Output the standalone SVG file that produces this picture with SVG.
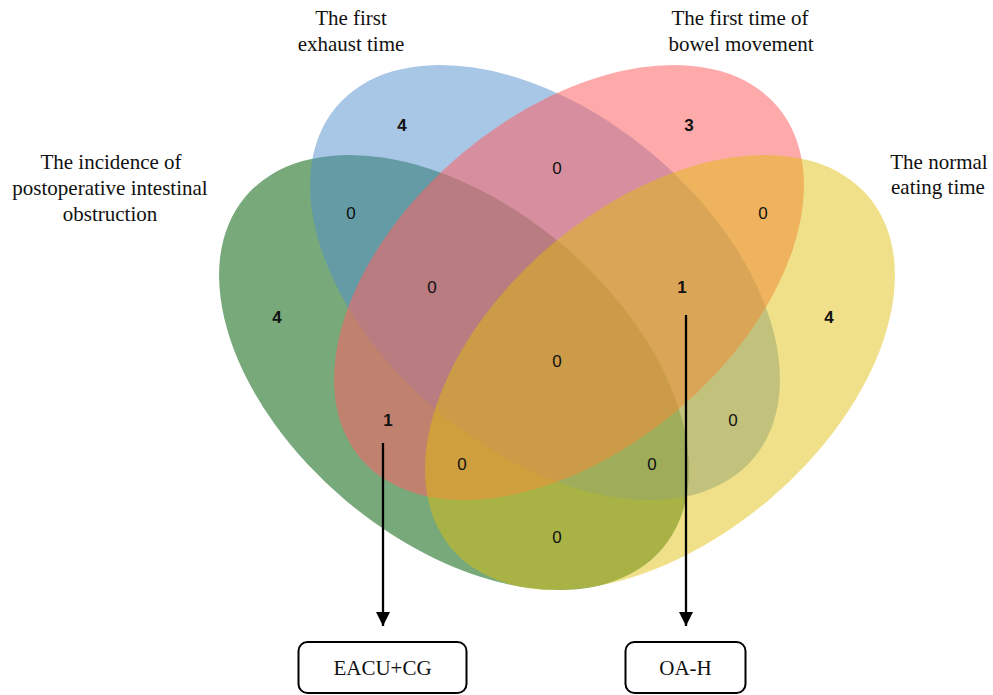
<svg xmlns="http://www.w3.org/2000/svg" width="993" height="695" viewBox="0 0 993 695">
<defs>
<style>
.lbl{font-family:"Liberation Serif","Times New Roman",serif;font-size:21px;fill:#111;text-anchor:middle}
.num{font-family:"Liberation Sans",Arial,sans-serif;font-size:17px;fill:#111;text-anchor:middle}
.b{font-weight:bold}
.box{fill:#fff;stroke:#000;stroke-width:2}
.conn{stroke:#000;stroke-width:2.3;fill:none}
</style>
<marker id="ah" markerWidth="14" markerHeight="14" refX="14" refY="7" orient="auto" markerUnits="userSpaceOnUse">
<path d="M0,0 L14,7 L0,14 Z" fill="#000"/>
</marker>
</defs>
<rect width="993" height="695" fill="#fff"/>
<g id="set-obstruction">
<ellipse cx="454" cy="372.5" rx="272.8" ry="167.6" transform="rotate(40.1 454 372.5)" fill="#3d8443" fill-opacity="0.7"/>
</g>
<g id="set-exhaust">
<ellipse cx="545" cy="282.5" rx="272.8" ry="167.6" transform="rotate(40.1 545 282.5)" fill="#518dcd" fill-opacity="0.5"/>
</g>
<g id="set-bowel">
<ellipse cx="569" cy="282.5" rx="272.8" ry="167.6" transform="rotate(-40.1 569 282.5)" fill="#fd6364" fill-opacity="0.55"/>
</g>
<g id="set-eating">
<ellipse cx="660" cy="372.5" rx="272.8" ry="167.6" transform="rotate(-40.1 660 372.5)" fill="#e0be0b" fill-opacity="0.48"/>
</g>
<g id="set-labels">
<text class="lbl" x="351" y="25">The first</text>
<text class="lbl" x="351" y="51">exhaust time</text>
<text class="lbl" x="740" y="25">The first time of</text>
<text class="lbl" x="741" y="51">bowel movement</text>
<text class="lbl" x="111" y="169">The incidence of</text>
<text class="lbl" x="110" y="195">postoperative intestinal</text>
<text class="lbl" x="110" y="221">obstruction</text>
<text class="lbl" x="939" y="169">The normal</text>
<text class="lbl" x="938" y="194">eating time</text>
</g>
<g id="counts">
<text class="num b" x="402" y="131">4</text>
<text class="num b" x="689" y="131">3</text>
<text class="num" x="557" y="174">0</text>
<text class="num" x="351" y="219">0</text>
<text class="num" x="763" y="219">0</text>
<text class="num b" x="277" y="323">4</text>
<text class="num b" x="829" y="323">4</text>
<text class="num" x="432" y="293">0</text>
<text class="num b" x="682" y="293">1</text>
<text class="num" x="557" y="367">0</text>
<text class="num b" x="388" y="426">1</text>
<text class="num" x="733" y="426">0</text>
<text class="num" x="462" y="470">0</text>
<text class="num" x="652" y="470">0</text>
<text class="num" x="557" y="543">0</text>
</g>
<g id="connectors">
<line class="conn" x1="383" y1="443" x2="383" y2="626" marker-end="url(#ah)"/>
<line class="conn" x1="686" y1="315" x2="686" y2="626" marker-end="url(#ah)"/>
</g>
<g id="box-eacu">
<rect class="box" x="298.5" y="642" width="168" height="51" rx="9"/>
<text class="lbl" x="382.5" y="675">EACU+CG</text>
</g>
<g id="box-oah">
<rect class="box" x="625.5" y="642" width="120" height="51" rx="9"/>
<text class="lbl" x="685.5" y="675">OA-H</text>
</g>
</svg>
